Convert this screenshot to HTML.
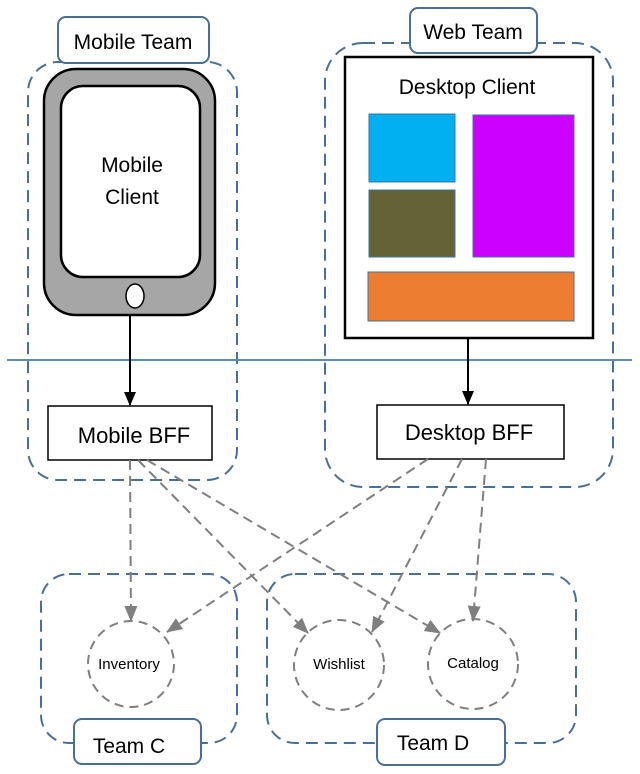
<!DOCTYPE html>
<html><head><meta charset="utf-8"><style>
html,body{margin:0;padding:0;background:#fff;}
svg{display:block;}
text{font-family:"Liberation Sans",sans-serif;fill:#000;}
</style></head><body>
<svg width="640" height="774" viewBox="0 0 640 774" xmlns="http://www.w3.org/2000/svg">
<defs>
<marker id="ab" markerWidth="14" markerHeight="14" refX="13" refY="6" orient="auto" markerUnits="userSpaceOnUse"><path d="M0,0 L14,6 L0,12 z" fill="#000"/></marker>
<marker id="ag" markerWidth="16" markerHeight="14" refX="15" refY="6.5" orient="auto" markerUnits="userSpaceOnUse"><path d="M0,0 L16,6.5 L0,13 z" fill="#7f7f7f"/></marker>
</defs>
<g fill="none" stroke="#4a6f94" stroke-width="2" stroke-dasharray="12,7">
<rect x="28" y="62" width="209" height="418" rx="30"/>
<rect x="325" y="43" width="288" height="444" rx="38"/>
<rect x="41" y="574" width="196" height="169" rx="28"/>
<rect x="267" y="574" width="309" height="169" rx="28"/>
</g>
<g fill="#fff" stroke="#4a6f94" stroke-width="2">
<rect x="58" y="17" width="151" height="46" rx="8"/>
<rect x="410" y="8" width="127" height="45" rx="8"/>
<rect x="74" y="719" width="127" height="45" rx="8"/>
<rect x="377" y="719" width="128" height="46" rx="8"/>
</g>
<text x="133" y="49" font-size="21" text-anchor="middle">Mobile Team</text>
<text x="473" y="39" font-size="21" text-anchor="middle">Web Team</text>
<text x="129" y="753" font-size="21" text-anchor="middle">Team C</text>
<text x="433" y="750" font-size="21" text-anchor="middle">Team D</text>
<line x1="7" y1="360" x2="632" y2="360" stroke="#5b8db5" stroke-width="2"/>
<rect x="44" y="69" width="171" height="246" rx="32" fill="#a6a6a6" stroke="#000" stroke-width="2.5"/>
<rect x="61" y="86" width="139" height="191" rx="22" fill="#fff" stroke="#000" stroke-width="2.5"/>
<ellipse cx="135" cy="296" rx="9" ry="12" fill="#fff" stroke="#000" stroke-width="1.5"/>
<text x="132" y="172" font-size="21" text-anchor="middle">Mobile</text>
<text x="132" y="204" font-size="21" text-anchor="middle">Client</text>
<rect x="345" y="57" width="248" height="281" fill="#fff" stroke="#000" stroke-width="2.5"/>
<text x="467" y="94" font-size="21" text-anchor="middle">Desktop Client</text>
<rect x="369" y="114" width="86" height="68" fill="#00b0f0" stroke="#41719c"/>
<rect x="369" y="190" width="86" height="67" fill="#636336" stroke="#41719c"/>
<rect x="473" y="115" width="101" height="142" fill="#cc00ff" stroke="#41719c"/>
<rect x="368" y="272" width="206" height="49" fill="#ed7d31" stroke="#41719c"/>
<line x1="130" y1="315" x2="130" y2="405" stroke="#000" stroke-width="2" marker-end="url(#ab)"/>
<line x1="468" y1="338" x2="468" y2="404" stroke="#000" stroke-width="2" marker-end="url(#ab)"/>
<rect x="48" y="406" width="164" height="54" fill="#fff" stroke="#000" stroke-width="1.5"/>
<text x="134" y="443" font-size="22" text-anchor="middle">Mobile BFF</text>
<rect x="377" y="405" width="187" height="54" fill="#fff" stroke="#000" stroke-width="1.5"/>
<text x="469" y="440" font-size="22" text-anchor="middle">Desktop BFF</text>
<g fill="#fff" stroke="#7f7f7f" stroke-width="2" stroke-dasharray="9,6">
<circle cx="131" cy="664" r="43"/>
<circle cx="339" cy="665" r="45"/>
<circle cx="473" cy="664" r="45"/>
</g>
<text x="129" y="669" font-size="15" text-anchor="middle">Inventory</text>
<text x="339" y="669" font-size="15" text-anchor="middle">Wishlist</text>
<text x="473" y="668" font-size="15" text-anchor="middle">Catalog</text>
<g stroke="#7f7f7f" stroke-width="2" stroke-dasharray="10,6" fill="none">
<line x1="130" y1="460" x2="131" y2="621" marker-end="url(#ag)"/>
<line x1="138" y1="460" x2="308" y2="633" marker-end="url(#ag)"/>
<line x1="147" y1="460" x2="440" y2="633" marker-end="url(#ag)"/>
<line x1="428" y1="459" x2="167" y2="632" marker-end="url(#ag)"/>
<line x1="462" y1="459" x2="372" y2="632" marker-end="url(#ag)"/>
<line x1="486" y1="459" x2="473" y2="621" marker-end="url(#ag)"/>
</g>
</svg>
</body></html>
